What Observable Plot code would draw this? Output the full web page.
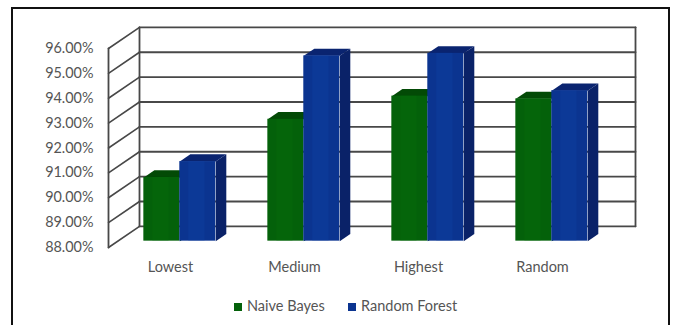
<!DOCTYPE html>
<html>
<head>
<meta charset="utf-8">
<script src="https://cdn.jsdelivr.net/npm/d3@7"></script>
<script src="https://cdn.jsdelivr.net/npm/@observablehq/plot@0.6"></script>
<style>
  html, body { margin: 0; background: #fff; overflow: hidden; }
  body { width: 674px; height: 325px; position: relative; font-family: Lato, "Open Sans", sans-serif; }
  #frame { position: absolute; left: 11px; top: 7px; width: 655px; height: 340px; border: 2px solid #111; }
  #chart { position: absolute; left: 0; top: 0; }
  #chart svg { background: transparent; }
  #legend { position: absolute; left: 0; top: 297px; width: 674px; height: 18px; font-size: 14.5px; color: #555; }
  #legend span { position: absolute; top: 0; white-space: nowrap; line-height: 18px; }
  #legend i { position: absolute; top: 6px; width: 8px; height: 8px; }
</style>
</head>
<body>
<div id="frame"></div>
<div id="chart"></div>
<div id="legend"></div>
<script>
// Classifier accuracy (%) for each feature selection group
const categories = ["Lowest", "Medium", "Highest", "Random"];
const naiveBayes = [90.56, 92.9, 93.83, 93.72];
const randomForest = [91.2, 95.45, 95.55, 94.05];
const yTicks = [88, 89, 90, 91, 92, 93, 94, 95, 96];
const seriesNames = ["Naive Bayes", "Random Forest"];

// Oblique projection of the 3D box: depth 0 is the front plane, depth 1 the back wall
const depthX = 0.25;   // category units per full depth
const depthY = 0.85;   // percentage points per full depth
const px = (x, d) => x + d * depthX;
const py = (v, d) => v + d * depthY;

const base = 88;
const barFront = 0.3, barBack = 0.64;
const groupStart = 0.21, barWidth = 0.29;

const palette = [
  {front: "#04610a", top: "#034a06", side: "#034a06", mid: "#0a700e"},
  {front: "#0b3490", top: "#0a2470", side: "#0a2268", mid: "#1044a8"}
];

// One box per category and series
const boxes = [naiveBayes, randomForest].flatMap((values, s) =>
  values.map((v, i) => ({
    s, v, key: `${s}-${i}`,
    x0: i + groupStart + s * barWidth,
    x1: i + groupStart + (s + 1) * barWidth
  }))
);

const topFace = b => [
  [b.x0, b.v, barFront], [b.x1, b.v, barFront], [b.x1, b.v, barBack], [b.x0, b.v, barBack]
].map(([x, v, d]) => ({key: b.key, x: px(x, d), y: py(v, d)}));
const sideFace = b => [
  [b.x1, b.v, barFront], [b.x1, base, barFront], [b.x1, base, barBack], [b.x1, b.v, barBack]
].map(([x, v, d]) => ({key: b.key, x: px(x, d), y: py(v, d)}));

// Drawn series by series so each blue box overlaps its green neighbour
const boxMarks = [0, 1].flatMap(s => {
  const group = boxes.filter(b => b.s === s);
  const c = palette[s];
  return [
    Plot.line(group.flatMap(sideFace), {x: "x", y: "y", z: "key", fill: c.side, stroke: "none"}),
    Plot.line(group.flatMap(topFace), {x: "x", y: "y", z: "key", fill: c.top, stroke: "none"}),
    Plot.rect(group, {
      x1: b => px(b.x0, barFront), x2: b => px(b.x1, barFront),
      y1: () => py(base, barFront), y2: b => py(b.v, barFront),
      fill: c.front
    }),
    // Faint sheen down the middle of each front face
    Plot.rect(group, {
      x1: b => px(b.x0 + barWidth * 0.25, barFront), x2: b => px(b.x0 + barWidth * 0.7, barFront),
      y1: () => py(base, barFront), y2: b => py(b.v, barFront),
      fill: c.mid, fillOpacity: 0.3
    })
  ];
});

const wallColor = "#484848";
const chart = Plot.plot({
  width: 674,
  height: 285,
  marginLeft: 108,
  marginRight: 70,
  marginTop: 48,
  marginBottom: 38,
  style: {background: "transparent", fontFamily: "Lato, 'Open Sans', sans-serif"},
  x: {type: "linear", domain: [0, 4], axis: null},
  y: {type: "linear", domain: [88, 96], axis: null},
  marks: [
    // Back wall gridlines
    Plot.line(yTicks.flatMap(t => [
      {t, x: px(0, 1), y: py(t, 1)}, {t, x: px(4, 1), y: py(t, 1)}
    ]), {x: "x", y: "y", z: "t", stroke: wallColor, strokeWidth: 1.8}),
    // Left wall slants
    Plot.line(yTicks.flatMap(t => [
      {t, x: px(0, 0), y: py(t, 0)}, {t, x: px(0, 1), y: py(t, 1)}
    ]), {x: "x", y: "y", z: "t", stroke: wallColor, strokeWidth: 1.6}),
    // Wall uprights: front-left, back-left, back-right
    Plot.line([[0, 0], [0, 1], [4, 1]].flatMap(([x, d], k) => [
      {k, x: px(x, d), y: py(88, d)}, {k, x: px(x, d), y: py(96, d)}
    ]), {x: "x", y: "y", z: "k", stroke: wallColor, strokeWidth: 1.8}),
    ...boxMarks,
    Plot.axisY({
      ticks: yTicks, tickSize: 0, tickPadding: 15, label: null,
      tickFormat: d => d.toFixed(2) + "%",
      fontSize: 14.4, fill: "#555"
    }),
    Plot.text(categories, {
      x: (d, i) => i + 0.5,
      y: () => 88,
      text: d => d,
      dy: 20,
      fontSize: 14.5,
      fill: "#555"
    })
  ]
});
document.getElementById("chart").append(chart);

// Legend under the plot
const legend = document.getElementById("legend");
const legendX = [[234, 247], [348, 361]];
seriesNames.forEach((name, s) => {
  const sw = document.createElement("i");
  sw.style.left = legendX[s][0] + "px";
  sw.style.background = palette[s].front;
  const t = document.createElement("span");
  t.style.left = legendX[s][1] + "px";
  t.textContent = name;
  legend.append(sw, t);
});
</script>
</body>
</html>
